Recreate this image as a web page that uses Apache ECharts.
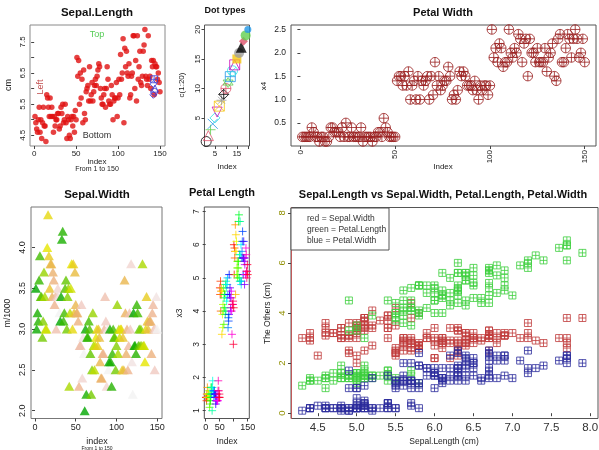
<!DOCTYPE html>
<html>
<head>
<meta charset="utf-8">
<script src="https://cdn.jsdelivr.net/npm/echarts@6/dist/echarts.min.js"></script>
<style>
  html, body { margin: 0; padding: 0; background: #fff; }
  #chart { width: 599px; height: 450px; }
</style>
</head>
<body>
<div id="chart"></div>
<script>
// iris columns, rows 1..150
var sepalLength = [5.1,4.9,4.7,4.6,5.0,5.4,4.6,5.0,4.4,4.9,5.4,4.8,4.8,4.3,5.8,5.7,5.4,5.1,5.7,5.1,5.4,5.1,4.6,5.1,4.8,5.0,5.0,5.2,5.2,4.7,4.8,5.4,5.2,5.5,4.9,5.0,5.5,4.9,4.4,5.1,5.0,4.5,4.4,5.0,5.1,4.8,5.1,4.6,5.3,5.0,
  7.0,6.4,6.9,5.5,6.5,5.7,6.3,4.9,6.6,5.2,5.0,5.9,6.0,6.1,5.6,6.7,5.6,5.8,6.2,5.6,5.9,6.1,6.3,6.1,6.4,6.6,6.8,6.7,6.0,5.7,5.5,5.5,5.8,6.0,5.4,6.0,6.7,6.3,5.6,5.5,5.5,6.1,5.8,5.0,5.6,5.7,5.7,6.2,5.1,5.7,
  6.3,5.8,7.1,6.3,6.5,7.6,4.9,7.3,6.7,7.2,6.5,6.4,6.8,5.7,5.8,6.4,6.5,7.7,7.7,6.0,6.9,5.6,7.7,6.3,6.7,7.2,6.2,6.1,6.4,7.2,7.4,7.9,6.4,6.3,6.1,7.7,6.3,6.4,6.0,6.9,6.7,6.9,5.8,6.8,6.7,6.7,6.3,6.5,6.2,5.9];
var sepalWidth = [3.5,3.0,3.2,3.1,3.6,3.9,3.4,3.4,2.9,3.1,3.7,3.4,3.0,3.0,4.0,4.4,3.9,3.5,3.8,3.8,3.4,3.7,3.6,3.3,3.4,3.0,3.4,3.5,3.4,3.2,3.1,3.4,4.1,4.2,3.1,3.2,3.5,3.6,3.0,3.4,3.5,2.3,3.2,3.5,3.8,3.0,3.8,3.2,3.7,3.3,
  3.2,3.2,3.1,2.3,2.8,2.8,3.3,2.4,2.9,2.7,2.0,3.0,2.2,2.9,2.9,3.1,3.0,2.7,2.2,2.5,3.2,2.8,2.5,2.8,2.9,3.0,2.8,3.0,2.9,2.6,2.4,2.4,2.7,2.7,3.0,3.4,3.1,2.3,3.0,2.5,2.6,3.0,2.6,2.3,2.7,3.0,2.9,2.9,2.5,2.8,
  3.3,2.7,3.0,2.9,3.0,3.0,2.5,2.9,2.5,3.6,3.2,2.7,3.0,2.5,2.8,3.2,3.0,3.8,2.6,2.2,3.2,2.8,2.8,2.7,3.3,3.2,2.8,3.0,2.8,3.0,2.8,3.8,2.8,2.8,2.6,3.0,3.4,3.1,3.0,3.1,3.1,3.1,2.7,3.2,3.3,3.0,2.5,3.0,3.4,3.0];
var petalLength = [1.4,1.4,1.3,1.5,1.4,1.7,1.4,1.5,1.4,1.5,1.5,1.6,1.4,1.1,1.2,1.5,1.3,1.4,1.7,1.5,1.7,1.5,1.0,1.7,1.9,1.6,1.6,1.5,1.4,1.6,1.6,1.5,1.5,1.4,1.5,1.2,1.3,1.4,1.3,1.5,1.3,1.3,1.3,1.6,1.9,1.4,1.6,1.4,1.5,1.4,
  4.7,4.5,4.9,4.0,4.6,4.5,4.7,3.3,4.6,3.9,3.5,4.2,4.0,4.7,3.6,4.4,4.5,4.1,4.5,3.9,4.8,4.0,4.9,4.7,4.3,4.4,4.8,5.0,4.5,3.5,3.8,3.7,3.9,5.1,4.5,4.5,4.7,4.4,4.1,4.0,4.4,4.6,4.0,3.3,4.2,4.2,4.2,4.3,3.0,4.1,
  6.0,5.1,5.9,5.6,5.8,6.6,4.5,6.3,5.8,6.1,5.1,5.3,5.5,5.0,5.1,5.3,5.5,6.7,6.9,5.0,5.7,4.9,6.7,4.9,5.7,6.0,4.8,4.9,5.6,5.8,6.1,6.4,5.6,5.1,5.6,6.1,5.6,5.5,4.8,5.4,5.6,5.1,5.1,5.9,5.7,5.2,5.0,5.2,5.4,5.1];
var petalWidth = [0.2,0.2,0.2,0.2,0.2,0.4,0.3,0.2,0.2,0.1,0.2,0.2,0.1,0.1,0.2,0.4,0.4,0.3,0.3,0.3,0.2,0.4,0.2,0.5,0.2,0.2,0.4,0.2,0.2,0.2,0.2,0.4,0.1,0.2,0.2,0.2,0.2,0.1,0.2,0.2,0.3,0.3,0.2,0.6,0.4,0.3,0.2,0.2,0.2,0.2,
  1.4,1.5,1.5,1.3,1.5,1.3,1.6,1.0,1.3,1.4,1.0,1.5,1.0,1.4,1.3,1.4,1.5,1.0,1.5,1.1,1.8,1.3,1.5,1.2,1.3,1.4,1.4,1.7,1.5,1.0,1.1,1.0,1.2,1.6,1.5,1.6,1.5,1.3,1.3,1.3,1.2,1.4,1.2,1.0,1.3,1.2,1.3,1.3,1.1,1.3,
  2.5,1.9,2.1,1.8,2.2,2.1,1.7,1.8,1.8,2.5,2.0,1.9,2.1,2.0,2.4,2.3,1.8,2.2,2.3,1.5,2.3,2.0,2.0,1.8,2.1,1.8,1.8,1.8,2.1,1.6,1.9,2.0,2.2,1.5,1.4,2.3,2.4,1.8,1.8,2.1,2.4,2.3,1.9,2.3,2.5,2.3,1.9,2.0,2.3,1.8];

// "Dot types" panel: y = c(1:20), drawn with pch 1..20
var dotValues = [1,2,3,4,5,6,7,8,9,10,11,12,13,14,15,16,17,18,19,20];

// extra blue symbols in the Sepal.Length panel
var extraX = [143, 142, 144, 143, 142];
var extraY = [6.3, 6.15, 6.0, 5.9, 5.8];
var extraPch = [12, 5, 2, 1, 5];

// ticks and labels
var indexTicks = [0, 50, 100, 150];
var indexLabels = ['0', '50', '100', '150'];
var p1YTicks = [4.5, 5, 5.5, 6, 6.5, 7, 7.5];
var p1YLabels = ['4.5', '5.5', '6.5', '7.5'];
var dotTicks = [5, 10, 15, 20];
var dotXLabels = ['5', '15'];
var dotYLabels = ['5', '10', '15', '20'];
var p3YTicks = [0.5, 1, 1.5, 2, 2.5];
var p3YLabels = ['0.5', '1.0', '1.5', '2.0', '2.5'];
var p4YTicks = [2, 2.5, 3, 3.5, 4];
var p4YLabels = ['2.0', '2.5', '3.0', '3.5', '4.0'];
var p5YTicks = [1, 2, 3, 4, 5, 6, 7];
var p5YLabels = ['1', '2', '3', '4', '5', '6', '7'];
var p5XLabels = ['0', '50', '150'];
var p6XTicks = [4.5, 5, 5.5, 6, 6.5, 7, 7.5, 8];
var p6XLabels = ['4.5', '5.0', '5.5', '6.0', '6.5', '7.0', '7.5', '8.0'];
var p6YTicks = [0, 2, 4, 6, 8];
var p6YLabels = ['0', '2', '4', '6', '8'];

var FONT = 'Liberation Sans, Arial, Helvetica, sans-serif';

// R-ish colour helpers
function hsv(h, s, v) {
  h = (h % 1) * 6;
  var i = Math.floor(h), f = h - i;
  var p = v * (1 - s), q = v * (1 - s * f), t = v * (1 - s * (1 - f));
  var rgb = [[v, t, p], [q, v, p], [p, v, t], [p, q, v], [t, p, v], [v, p, q]][i % 6];
  return '#' + rgb.map(function (c) {
    var x = Math.round(c * 255).toString(16);
    return x.length < 2 ? '0' + x : x;
  }).join('');
}
function seq(a, b, n) {
  var r = [];
  for (var i = 0; i < n; i++) r.push(n === 1 ? a : a + (b - a) * i / (n - 1));
  return r;
}
function terrainColors(n) {
  var k = Math.floor(n / 2), m = n - k + 1, out = [];
  var H = seq(4 / 12, 2 / 12, k), S = seq(1, 1, k), V = seq(0.65, 0.9, k);
  for (var i = 0; i < k; i++) out.push(hsv(H[i], S[i], V[i]));
  H = seq(2 / 12, 0, m); S = seq(1, 0, m); V = seq(0.9, 0.95, m);
  for (var j = 1; j < m; j++) out.push(hsv(H[j], S[j], V[j]));
  return out;
}
function rainbow(n) {
  var out = [];
  for (var i = 0; i < n; i++) out.push(hsv(i / n, 1, 1));
  return out;
}
var rPalette = ['#000000', '#DF536B', '#61D04F', '#2297E6', '#28E2E5', '#CD0BBC', '#F5C710', '#9E9E9E'];
var terrain30 = terrainColors(30);
var rainbow50 = rainbow(50);

// pch symbol shapes
var CIRC = 'M0,5A5,5,0,1,1,10,5A5,5,0,1,1,0,5Z';
var SQ = 'M0,0H10V10H0Z';
var PLUS = 'M5,0V10M0,5H10';
var CROSS = 'M1.5,1.5L8.5,8.5M8.5,1.5L1.5,8.5';
var pch = {
  1: 'path://' + CIRC,
  2: 'path://M5,0L10,9H0Z',
  3: 'path://' + PLUS,
  4: 'path://M0,0L10,10M10,0L0,10',
  5: 'path://M5,0L10,5L5,10L0,5Z',
  6: 'path://M0,1H10L5,10Z',
  7: 'path://' + SQ + 'M0,0L10,10M10,0L0,10',
  8: 'path://' + PLUS + CROSS,
  9: 'path://M5,0L10,5L5,10L0,5Z' + PLUS,
  10: 'path://' + CIRC + PLUS,
  11: 'path://M5,0L10,7.5H0ZM5,10L0,2.5H10Z',
  12: 'path://' + SQ + PLUS,
  13: 'path://' + CIRC + CROSS,
  14: 'path://' + SQ + 'M0,10L5,0L10,10',
  15: 'rect', 16: 'circle', 17: 'triangle', 18: 'diamond', 19: 'circle', 20: 'circle'
};
var pchSize = {15: 9, 16: 10, 17: 11, 18: 9, 19: 10, 20: 7};

function openStyle(c) {
  return { color: 'rgba(0,0,0,0)', borderColor: c, borderWidth: 1 };
}

function valAxis(grid, min, max, ticks, labels, label) {
  var vals = labels.map(Number);
  var al = {
    customValues: vals,
    fontSize: 8.5, color: '#222', margin: 4, fontFamily: FONT,
    formatter: function (v) {
      for (var i = 0; i < vals.length; i++) if (Math.abs(vals[i] - v) < 1e-9) return labels[i];
      return '';
    }
  };
  for (var k in (label || {})) al[k] = label[k];
  return {
    type: 'value', gridIndex: grid, min: min, max: max,
    axisLine: { show: false }, splitLine: { show: false },
    axisTick: { show: true, length: 3, customValues: ticks, lineStyle: { color: '#444', width: 1 } },
    axisLabel: al
  };
}

function box(left, top, width, height, color) {
  return { left: left, top: top, width: width, height: height, show: true,
           borderColor: color || '#555', borderWidth: 1, backgroundColor: 'rgba(0,0,0,0)',
           containLabel: false, outerBoundsMode: 'none' };
}

var grids = [
  box(30, 25, 135, 121, '#8a8a8a'),
  box(204.5, 25, 45, 121),
  box(291, 25, 305, 121),
  box(31, 207, 131, 211.5, '#777'),
  box(204.3, 207, 45, 211.5),
  box(291, 207.5, 307, 211)
];

var xAxes = [
  valAxis(0, -4.96, 155.96, indexTicks, indexLabels, { fontSize: 8 }),
  valAxis(1, 0.24, 20.76, dotTicks, dotXLabels, { fontSize: 8 }),
  valAxis(2, -4.96, 155.96, indexTicks, indexLabels, { fontSize: 8, rotate: 90, margin: 4 }),
  valAxis(3, -4.96, 155.96, indexTicks, indexLabels, { fontSize: 9, margin: 5 }),
  valAxis(4, -4.96, 155.96, indexTicks, p5XLabels, { fontSize: 9, margin: 5 }),
  valAxis(5, 4.156, 8.1, p6XTicks, p6XLabels, { fontSize: 11.5, margin: 3, color: '#333' })
];
var yAxes = [
  valAxis(0, 4.156, 8.044, p1YTicks, p1YLabels, { fontSize: 8, rotate: 90, margin: 3 }),
  valAxis(1, 0.24, 20.76, dotTicks, dotYLabels, { fontSize: 8, rotate: 90, margin: 3 }),
  valAxis(2, 0.004, 2.596, p3YTicks, p3YLabels, { fontSize: 8.5, margin: 5 }),
  valAxis(3, 1.904, 4.496, p4YTicks, p4YLabels, { fontSize: 9, rotate: 90, margin: 4 }),
  valAxis(4, 0.764, 7.136, p5YTicks, p5YLabels, { fontSize: 8.5, rotate: 90, margin: 3 }),
  valAxis(5, -0.212, 8.212, p6YTicks, p6YLabels, { fontSize: 9.5, rotate: 90, margin: 4, color: '#8f8f00' })
];
yAxes[5].axisLine = { show: true, lineStyle: { color: '#c05a5a', width: 1 } };

function byIndex(arr) {
  return arr.map(function (v, i) { return [i + 1, v]; });
}
function versus(xs, ys) {
  return xs.map(function (v, i) { return [v, ys[i]]; });
}

var series = [
  { type: 'scatter', xAxisIndex: 0, yAxisIndex: 0, symbol: 'circle', symbolSize: 5.5,
    itemStyle: { color: '#e01212' }, data: byIndex(sepalLength) },
  { type: 'scatter', xAxisIndex: 0, yAxisIndex: 0, symbolSize: 7,
    data: extraX.map(function (x, i) {
      return { value: [x, extraY[i]], symbol: pch[extraPch[i]], itemStyle: openStyle('#3b3bd6') };
    }) },
  { type: 'scatter', xAxisIndex: 1, yAxisIndex: 1,
    data: dotValues.map(function (v, i) {
      var p = i + 1, c = rPalette[i % 8];
      return { value: [p, v], symbol: pch[p], symbolSize: pchSize[p] || 10,
               itemStyle: p >= 15 ? { color: c } : openStyle(c) };
    }) },
  { type: 'scatter', xAxisIndex: 2, yAxisIndex: 2, symbol: pch[10], symbolSize: 9.5,
    itemStyle: openStyle('#9a1f1f'), data: byIndex(petalWidth) },
  { type: 'scatter', xAxisIndex: 3, yAxisIndex: 3, symbol: 'triangle', symbolSize: [10, 9],
    data: byIndex(sepalWidth).map(function (d, i) {
      return { value: d, itemStyle: { color: terrain30[i % 30] } };
    }) },
  { type: 'scatter', xAxisIndex: 4, yAxisIndex: 4, symbol: pch[3], symbolSize: 8,
    data: byIndex(petalLength).map(function (d, i) {
      return { value: d, itemStyle: openStyle(rainbow50[i % 50]) };
    }) },
  { type: 'scatter', xAxisIndex: 5, yAxisIndex: 5, symbol: pch[12], symbolSize: 7,
    itemStyle: openStyle('#c03c3c'), data: versus(sepalLength, sepalWidth) },
  { type: 'scatter', xAxisIndex: 5, yAxisIndex: 5, symbol: pch[12], symbolSize: 7,
    itemStyle: openStyle('#3fcf3f'), data: versus(sepalLength, petalLength) },
  { type: 'scatter', xAxisIndex: 5, yAxisIndex: 5, symbol: pch[12], symbolSize: 7,
    itemStyle: openStyle('#2c2c9c'), data: versus(sepalLength, petalWidth) }
];
series.forEach(function (s) { s.silent = true; s.animation = false; });

function txt(s, x, y, size, opts) {
  opts = opts || {};
  return {
    type: 'text', x: x, y: y, rotation: opts.rot ? Math.PI / 2 : 0, z: 100,
    style: { text: s, fill: opts.color || '#111', align: opts.align || 'center', verticalAlign: 'middle',
             font: (opts.bold ? 'bold ' : '') + size + 'px ' + FONT }
  };
}

var graphics = [
  // titles
  txt('Sepal.Length', 97, 13, 11.5, { bold: true }),
  txt('Dot types', 225, 11, 9, { bold: true }),
  txt('Petal Width', 443, 13, 11, { bold: true }),
  txt('Sepal.Width', 97, 195, 11.5, { bold: true }),
  txt('Petal Length', 222, 193, 11, { bold: true }),
  txt('Sepal.Length vs Sepal.Width, Petal.Length, Petal.Width', 443, 195, 11, { bold: true }),
  // axis titles
  txt('cm', 9, 85, 9, { rot: true, color: '#222' }),
  txt('index', 97, 162, 8, { color: '#222' }),
  txt('From 1 to 150', 97, 169, 7, { color: '#222' }),
  txt('c(1:20)', 182, 85, 8, { rot: true, color: '#222' }),
  txt('Index', 227, 167, 8, { color: '#222' }),
  txt('x4', 264, 86, 8, { rot: true, color: '#222' }),
  txt('Index', 443, 167, 8, { color: '#222' }),
  txt('m/1000', 8, 313, 8.5, { rot: true, color: '#222' }),
  txt('index', 97, 442, 9, { color: '#222' }),
  txt('From 1 to 150', 97, 449, 5, { color: '#222' }),
  txt('x3', 180, 313, 8.5, { rot: true, color: '#222' }),
  txt('Index', 227, 442, 8.5, { color: '#222' }),
  txt('The Others (cm)', 268, 313, 8.5, { rot: true, color: '#222' }),
  txt('Sepal.Length (cm)', 444, 442, 8.5, { color: '#222' }),
  // annotations in Sepal.Length panel
  txt('Top', 97, 35, 9, { color: '#55cc55' }),
  txt('Left', 41, 87, 9, { rot: true, color: '#c04a4a' }),
  txt('Bottom', 97, 136, 9, { color: '#333' }),
  // legend box
  { type: 'rect', z: 99, shape: { x: 291, y: 208, width: 98, height: 42 },
    style: { fill: '#fff', stroke: '#555', lineWidth: 1 } },
  txt('red = Sepal.Width', 307, 218.5, 8.5, { align: 'left', color: '#333' }),
  txt('green = Petal.Length', 307, 229.5, 8.5, { align: 'left', color: '#333' }),
  txt('blue = Petal.Width', 307, 240.5, 8.5, { align: 'left', color: '#333' })
];

var chart = echarts.init(document.getElementById('chart'), null, { renderer: 'canvas' });
chart.setOption({
  animation: false,
  backgroundColor: '#fff',
  grid: grids,
  xAxis: xAxes,
  yAxis: yAxes,
  series: series,
  graphic: graphics
});
</script>
</body>
</html>
